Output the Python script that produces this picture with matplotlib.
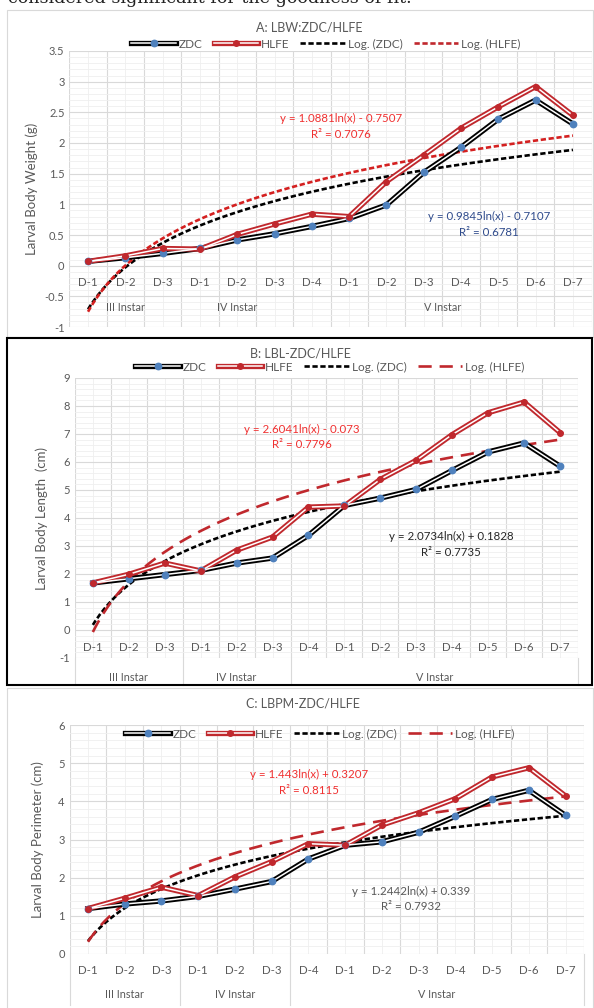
import matplotlib
matplotlib.use("Agg")
import matplotlib.pyplot as plt
from matplotlib.lines import Line2D
from matplotlib.legend_handler import HandlerTuple
from matplotlib.patches import Rectangle
import numpy as np

plt.rcParams['font.family'] = ['Lato', 'DejaVu Sans']

days = ['D-1', 'D-2', 'D-3', 'D-1', 'D-2', 'D-3', 'D-4', 'D-1', 'D-2', 'D-3', 'D-4', 'D-5', 'D-6', 'D-7']
instars = ['III Instar', 'IV Instar', 'V Instar']
instar_span = [(1, 3), (4, 6), (7, 14)]

lbw_zdc = [0.07, 0.13, 0.20, 0.28, 0.42, 0.52, 0.64, 0.77, 0.99, 1.52, 1.93, 2.39, 2.70, 2.31]
lbw_hlfe = [0.07, 0.16, 0.28, 0.27, 0.51, 0.68, 0.84, 0.80, 1.37, 1.80, 2.24, 2.59, 2.92, 2.45]
lbl_zdc = [1.68, 1.83, 1.98, 2.13, 2.39, 2.57, 3.38, 4.45, 4.71, 5.02, 5.70, 6.36, 6.68, 5.85]
lbl_hlfe = [1.68, 1.99, 2.39, 2.11, 2.85, 3.32, 4.39, 4.43, 5.38, 6.06, 6.98, 7.76, 8.14, 7.05]
lbp_zdc = [1.19, 1.31, 1.39, 1.51, 1.70, 1.90, 2.49, 2.85, 2.94, 3.19, 3.61, 4.05, 4.29, 3.63]
lbp_hlfe = [1.19, 1.46, 1.75, 1.53, 2.02, 2.42, 2.89, 2.85, 3.38, 3.70, 4.07, 4.64, 4.88, 4.14]

# log trendline coefficients (a, b) as printed on the chart
fit_a_zdc, fit_a_hlfe = (0.9845, -0.7107), (1.0881, -0.7507)
fit_b_zdc, fit_b_hlfe = (2.0734, 0.1828), (2.6041, -0.073)
fit_c_zdc, fit_c_hlfe = (1.2442, 0.339), (1.443, 0.3207)

W, H = 594, 1008
fig = plt.figure(figsize=(W / 100, H / 100), dpi=100)

GRAY = '#595959'
BLUE = '#4F81BD'
RED = '#C0282D'
EQ = 8.3


def axes_px(x0, y0, x1, y1):
    return fig.add_axes([x0 / W, 1 - y1 / H, (x1 - x0) / W, (y1 - y0) / H])


def box(x0, y0, x1, y1, color, lw):
    fig.patches.append(Rectangle((x0 / W, 1 - y1 / H), (x1 - x0) / W, (y1 - y0) / H,
                                 transform=fig.transFigure, fill=False,
                                 edgecolor=color, lw=lw))


def double_line(ax, y, outer, mcolor, ms):
    x = np.arange(1, 15)
    ax.plot(x, y, color=outer, lw=3.8, zorder=3, solid_joinstyle='miter')
    ax.plot(x, y, color='white', lw=1.1, zorder=4)
    ax.plot(x, y, ls='none', marker='o', color=mcolor, ms=ms, zorder=5)


def trend(ax, coef, color, dashes):
    xs = np.linspace(1, 14, 200)
    ax.plot(xs, coef[0] * np.log(xs) + coef[1], color=color, lw=1.9,
            dashes=dashes, zorder=2)


def base(ax, ylo, yhi, major, minor):
    ax.set_xlim(0.5, 14.5)
    ax.set_ylim(ylo, yhi)
    ax.set_yticks(np.arange(ylo, yhi + 0.001, major))
    ax.set_yticks(np.arange(ylo, yhi + 0.001, minor), minor=True)
    ax.set_xticks(np.arange(0.5, 15, 1))
    ax.set_xticks(np.arange(1, 15, 1), minor=True)
    ax.set_xticklabels([])
    ax.grid(True, which='major', color='#d9d9d9', lw=0.8)
    ax.grid(True, which='minor', color='#efefef', lw=0.6)
    ax.set_axisbelow(True)
    ax.tick_params(length=0, which='both', labelsize=8, labelcolor=GRAY)
    for s in ax.spines.values():
        s.set_visible(False)
    labs = ['%g' % v for v in np.arange(ylo, yhi + 0.001, major)]
    ax.set_yticklabels(labs)


def legend(ax, xc, yc, red_dashes):
    h_zdc = (Line2D([], [], color='black', lw=3.8), Line2D([], [], color='white', lw=1.1),
             Line2D([], [], ls='none', marker='o', color=BLUE, ms=4.6))
    h_hlfe = (Line2D([], [], color=RED, lw=3.8), Line2D([], [], color='white', lw=1.1),
              Line2D([], [], ls='none', marker='o', color=RED, ms=4))
    h_lz = Line2D([], [], color='black', lw=1.9, dashes=(2, 1))
    h_lh = Line2D([], [], color=RED, lw=1.9, dashes=red_dashes)
    fig.legend([h_zdc, h_hlfe, h_lz, h_lh], ['ZDC', 'HLFE', 'Log. (ZDC)', 'Log. (HLFE)'],
               handler_map={tuple: HandlerTuple(ndivide=1, pad=0)}, ncol=4, frameon=False,
               loc='center', bbox_to_anchor=(xc / W, 1 - yc / H), fontsize=8.5,
               labelcolor=GRAY, handlelength=3.8, handletextpad=0.25, columnspacing=0.9,
               borderpad=0.1)


def cat_labels(ax, yday, yinst):
    for i, d in enumerate(days):
        ax.text(i + 1, yday, d, ha='center', va='center', fontsize=8.3, color=GRAY, clip_on=False)
    for name, (a, b) in zip(instars, instar_span):
        ax.text((a + b) / 2, yinst, name, ha='center', va='center', fontsize=7.8,
                color=GRAY, clip_on=False)


def separators(ax, y0, y1):
    for xv in [0.5, 3.5, 6.5, 14.5]:
        ax.plot([xv, xv], [y0, y1], color='#d9d9d9', lw=0.8, clip_on=False)


def eq(x, y, s, color):
    fig.text(x / W, 1 - y / H, s, ha='center', va='center', fontsize=EQ, color=color)


# cut off text at the top of the page
fig.text(8 / W, 1 - 3 / H, 'considered significant for the goodness of fit.',
         family='DejaVu Serif', fontsize=12.6, va='baseline', ha='left', color='#222222')

# ---------------- A ----------------
box(7, 10, 593, 337, '#d9d9d9', 0.8)
ax1 = axes_px(69.4, 51, 591.6, 327)
base(ax1, -1, 3.5, 0.5, 0.1)
trend(ax1, fit_a_zdc, 'black', (2, 1))
trend(ax1, fit_a_hlfe, '#D42020', (2, 1))
double_line(ax1, lbw_zdc, 'black', BLUE, 4.6)
double_line(ax1, lbw_hlfe, RED, RED, 4)
cat_labels(ax1, -0.28, -0.68)
ax1.set_ylabel('Larval Body Weight (g)', fontsize=9.5, color=GRAY, labelpad=5)
fig.text(309 / W, 1 - 27 / H, 'A: LBW:ZDC/HLFE', ha='center', va='center', fontsize=9, color=GRAY)
legend(ax1, 326, 44, (2, 1))
eq(341, 118, 'y = 1.0881ln(x) - 0.7507', '#F03030')
eq(341, 134, 'R² = 0.7076', '#F03030')
eq(489, 216, 'y = 0.9845ln(x) - 0.7107', '#2F4B8C')
eq(489, 232, 'R² = 0.6781', '#2F4B8C')

# ---------------- B ----------------
box(7, 338, 592, 685, 'black', 1.5)
ax2 = axes_px(74.9, 378, 578, 658)
base(ax2, -1, 9, 1, 0.2)
trend(ax2, fit_b_zdc, 'black', (2, 1))
trend(ax2, fit_b_hlfe, RED, (5, 3))
double_line(ax2, lbl_zdc, 'black', BLUE, 4.6)
double_line(ax2, lbl_hlfe, RED, RED, 4)
cat_labels(ax2, -0.64, -1.68)
separators(ax2, -1, -1.95)
ax2.set_ylabel('Larval Body Length  (cm)', fontsize=9.5, color=GRAY, labelpad=8)
fig.text(300 / W, 1 - 353 / H, 'B: LBL-ZDC/HLFE', ha='center', va='center', fontsize=9, color=GRAY)
legend(ax2, 330, 367, (5, 3))
eq(302, 429, 'y = 2.6041ln(x) - 0.073', '#F03030')
eq(302, 445, 'R² = 0.7796', '#F03030')
eq(451, 536, 'y = 2.0734ln(x) + 0.1828', '#262626')
eq(451, 552, 'R² = 0.7735', '#262626')

# ---------------- C ----------------
box(7, 688, 593, 1010, '#d9d9d9', 0.8)
ax3 = axes_px(69.6, 725, 584, 954)
base(ax3, 0, 6, 1, 0.2)
trend(ax3, fit_c_zdc, 'black', (2, 1))
trend(ax3, fit_c_hlfe, RED, (5, 3))
double_line(ax3, lbp_zdc, 'black', BLUE, 4.6)
double_line(ax3, lbp_hlfe, RED, RED, 4)
cat_labels(ax3, -0.42, -1.07)
separators(ax3, 0, -1.34)
ax3.set_ylabel('Larval Body Perimeter (cm)', fontsize=9.5, color=GRAY, labelpad=10)
fig.text(303 / W, 1 - 703 / H, 'C: LBPM-ZDC/HLFE', ha='center', va='center', fontsize=9, color=GRAY)
legend(ax3, 320, 734, (5, 3))
eq(309, 774, 'y = 1.443ln(x) + 0.3207', '#F03030')
eq(309, 790, 'R² = 0.8115', '#F03030')
eq(411, 891, 'y = 1.2442ln(x) + 0.339', GRAY)
eq(411, 907, 'R² = 0.7932', GRAY)

fig.savefig('out.png', dpi=100)
